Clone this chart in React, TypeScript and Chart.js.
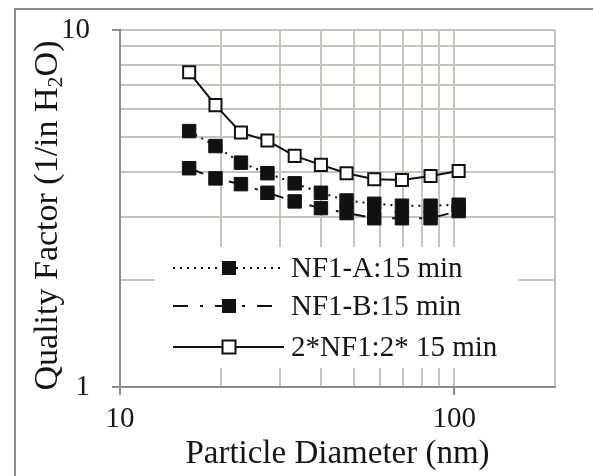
import React, { useEffect, useRef } from 'react';
import { Chart, registerables } from 'chart.js';

Chart.register(...registerables);

// ---- data ----
const diameters = [16.1, 19.3, 23.0, 27.6, 33.3, 39.9, 47.6, 57.6, 69.7, 84.9, 103];
const nf1A = [5.21, 4.73, 4.25, 3.97, 3.72, 3.5, 3.33, 3.26, 3.22, 3.22, 3.24];
const nf1B = [4.1, 3.84, 3.7, 3.5, 3.31, 3.17, 3.07, 2.97, 2.97, 2.97, 3.11];
const nf1Double = [7.61, 6.16, 5.16, 4.9, 4.44, 4.19, 3.97, 3.82, 3.8, 3.9, 4.03];
const seriesLabels = ['NF1-A:15 min', 'NF1-B:15 min', '2*NF1:2* 15 min'];
const xTickValues = [10, 20, 30, 40, 50, 60, 70, 80, 90, 100, 200];
const xLabeledTicks = [10, 100];
const yTickValues = [1, 2, 3, 4, 5, 6, 7, 8, 9, 10];
const yLabeledTicks = [1, 10];
const xTitle = 'Particle Diameter (nm)';
// y title parts: main text, subscript, tail
const yTitleParts = ['Quality Factor (1/in H', '2', 'O)'];

const FONT = "'Liberation Serif', 'Times New Roman', serif";
const TEXT = '#151515';
const GRID = '#c8c4bc';
const AXIS = '#8c8c8c';

const toPts = (ys: number[]) => ys.map((y, i) => ({ x: diameters[i], y }));

const framePlugin = {
  id: 'frame',
  beforeDraw(chart: any) {
    const { ctx } = chart;
    ctx.save();
    ctx.fillStyle = '#ffffff';
    ctx.fillRect(0, 0, chart.width, chart.height);
    ctx.strokeStyle = AXIS;
    ctx.lineWidth = 2;
    ctx.strokeRect(15, 9, chart.width + 40, chart.height + 40);
    ctx.restore();
  },
};

const yTitlePlugin = {
  id: 'yTitleSub',
  afterDraw(chart: any) {
    const { ctx, chartArea } = chart;
    const main = `34px ${FONT}`;
    const sub = `22px ${FONT}`;
    ctx.save();
    ctx.font = main;
    const w0 = ctx.measureText(yTitleParts[0]).width;
    const w2 = ctx.measureText(yTitleParts[2]).width;
    ctx.font = sub;
    const w1 = ctx.measureText(yTitleParts[1]).width;
    const total = w0 + w1 + w2;
    const cy = (chartArea.top + chartArea.bottom) / 2 + 7;
    ctx.translate(45, cy);
    ctx.rotate(-Math.PI / 2);
    ctx.fillStyle = TEXT;
    ctx.textAlign = 'left';
    ctx.textBaseline = 'alphabetic';
    let x = -total / 2;
    const base = 12;
    ctx.font = main;
    ctx.fillText(yTitleParts[0], x, base);
    x += w0;
    ctx.font = sub;
    ctx.fillText(yTitleParts[1], x, base + 5);
    x += w1;
    ctx.font = main;
    ctx.fillText(yTitleParts[2], x, base);
    ctx.restore();
  },
};

const legendPlugin = {
  id: 'insideLegend',
  afterDatasetsDraw(chart: any) {
    const { ctx } = chart;
    ctx.save();
    ctx.fillStyle = '#ffffff';
    ctx.fillRect(155, 247, 363, 121);
    const rows = [268, 306, 347];
    chart.data.datasets.forEach((ds: any, i: number) => {
      const y = rows[i];
      ctx.strokeStyle = ds.borderColor;
      ctx.lineWidth = ds.borderWidth;
      ctx.setLineDash(ds.borderDash || []);
      ctx.beginPath();
      ctx.moveTo(173, y);
      ctx.lineTo(284, y);
      ctx.stroke();
      ctx.setLineDash([]);
      const half = 6.5;
      ctx.fillStyle = ds.pointBackgroundColor;
      ctx.fillRect(229 - half, y - half, half * 2, half * 2);
      ctx.strokeStyle = ds.pointBorderColor;
      ctx.lineWidth = ds.pointBorderWidth;
      ctx.strokeRect(229 - half, y - half, half * 2, half * 2);
      ctx.fillStyle = TEXT;
      ctx.font = `29px ${FONT}`;
      ctx.textBaseline = 'middle';
      ctx.textAlign = 'left';
      ctx.fillText(ds.label, 291, y + 1);
    });
    ctx.restore();
  },
};

export default function App() {
  const ref = useRef<HTMLCanvasElement | null>(null);

  useEffect(() => {
    if (!ref.current) return;
    const chart = new Chart(ref.current, {
      type: 'line',
      data: {
        datasets: [
          {
            label: seriesLabels[0],
            data: toPts(nf1A),
            borderColor: '#111111',
            borderWidth: 2,
            borderDash: [2, 5],
            pointStyle: 'rect',
            pointRadius: 9.5,
            pointBackgroundColor: '#111111',
            pointBorderColor: '#111111',
            pointBorderWidth: 1,
            tension: 0,
            order: 3,
          },
          {
            label: seriesLabels[1],
            data: toPts(nf1B),
            borderColor: '#111111',
            borderWidth: 2,
            borderDash: [15, 12, 3, 12],
            pointStyle: 'rect',
            pointRadius: 9.5,
            pointBackgroundColor: '#111111',
            pointBorderColor: '#111111',
            pointBorderWidth: 1,
            tension: 0,
            order: 2,
          },
          {
            label: seriesLabels[2],
            data: toPts(nf1Double),
            borderColor: '#111111',
            borderWidth: 2,
            pointStyle: 'rect',
            pointRadius: 8.5,
            pointBackgroundColor: '#ffffff',
            pointBorderColor: '#111111',
            pointBorderWidth: 2,
            tension: 0,
            order: 1,
          },
        ],
      },
      options: {
        responsive: false,
        animation: false,
        events: [],
        layout: { padding: { top: 30, right: 38, left: 0, bottom: 0 } },
        plugins: {
          legend: { display: false },
          tooltip: { enabled: false },
        },
        scales: {
          x: {
            type: 'logarithmic',
            min: 10,
            max: 200,
            afterBuildTicks: (s: any) => {
              s.ticks = xTickValues.map((v) => ({ value: v }));
            },
            afterFit: (s: any) => {
              s.height = 89;
              s.paddingLeft = 0;
              s.paddingRight = 0;
            },
            ticks: {
              autoSkip: false,
              maxRotation: 0,
              minRotation: 0,
              padding: 10,
              color: TEXT,
              font: { family: FONT, size: 29, lineHeight: 1 },
              callback: (v: any) => (xLabeledTicks.includes(Number(v)) ? String(v) : ''),
            },
            grid: {
              color: GRID,
              lineWidth: 2,
              tickLength: 8,
              tickColor: (c: any) =>
                c.tick && xLabeledTicks.includes(c.tick.value) ? AXIS : 'rgba(0,0,0,0)',
            },
            border: { color: AXIS, width: 2 },
            title: {
              display: true,
              text: xTitle,
              color: TEXT,
              font: { family: FONT, size: 33, lineHeight: 1 },
              padding: { top: 0, bottom: 5 },
            },
          },
          y: {
            type: 'logarithmic',
            min: 1,
            max: 10,
            afterBuildTicks: (s: any) => {
              s.ticks = yTickValues.map((v) => ({ value: v }));
            },
            afterFit: (s: any) => {
              s.width = 120;
              s.paddingTop = 0;
              s.paddingBottom = 0;
            },
            ticks: {
              autoSkip: false,
              padding: 22,
              color: TEXT,
              font: { family: FONT, size: 29, lineHeight: 1 },
              callback: (v: any) => (yLabeledTicks.includes(Number(v)) ? String(v) : ''),
            },
            grid: {
              color: GRID,
              lineWidth: 2,
              tickLength: 8,
              tickColor: (c: any) =>
                c.tick && yLabeledTicks.includes(c.tick.value) ? AXIS : 'rgba(0,0,0,0)',
            },
            border: { color: AXIS, width: 2 },
            title: { display: false },
          },
        },
      },
      plugins: [framePlugin, legendPlugin, yTitlePlugin],
    } as any);
    return () => chart.destroy();
  }, []);

  return (
    <div style={{ position: 'absolute', left: 0, top: 0, width: 593, height: 476 }}>
      <canvas ref={ref} width={593} height={476} style={{ display: 'block' }} />
    </div>
  );
}
